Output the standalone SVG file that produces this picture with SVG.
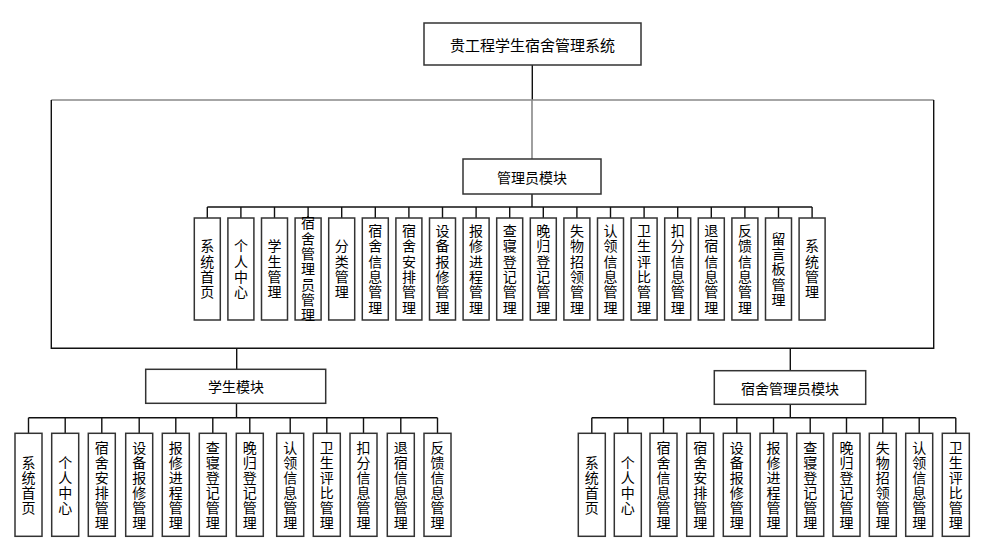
<svg xmlns="http://www.w3.org/2000/svg" width="981" height="539" viewBox="0 0 981 539">
<style>
.b{fill:#fff;stroke:#333;stroke-width:1.5}
.t{font-family:"Noto Sans CJK SC","Liberation Sans",sans-serif;font-size:14px;fill:#000;text-anchor:middle;dominant-baseline:central}
.v{font-family:"Noto Sans CJK SC","Liberation Sans",sans-serif;font-size:14px;fill:#000;text-anchor:middle;writing-mode:vertical-rl;letter-spacing:1.3px}
.w{letter-spacing:1px}
.c{stroke:#111;stroke-width:1.4;fill:none}
.g{stroke:#888;stroke-width:1.6;fill:none}
</style>
<rect width="981" height="539" fill="#fff"/>
<g id="connectors">
<line class="c" x1="532.3" y1="65" x2="532.3" y2="100"/>
<line class="g" x1="51.3" y1="100" x2="933.7" y2="100"/>
<polyline class="c" points="51.3,100 51.3,348.3 933.7,348.3 933.7,100"/>
<line class="g" x1="532" y1="100" x2="532" y2="159"/>
<line class="c" x1="532" y1="194" x2="532" y2="207"/>
<line class="c" x1="207.3" y1="207" x2="812.1" y2="207"/>
<path class="c" d="M207.3,207V218M240.9,207V218M274.5,207V218M308.1,207V218M341.7,207V218M375.3,207V218M408.9,207V218M442.5,207V218M476.1,207V218M509.7,207V218M543.3,207V218M576.9,207V218M610.5,207V218M644.1,207V218M677.7,207V218M711.3,207V218M744.9,207V218M778.5,207V218M812.1,207V218"/>
<line class="c" x1="236.7" y1="348.3" x2="236.7" y2="369.3"/>
<line class="c" x1="790.3" y1="348.3" x2="790.3" y2="370.7"/>
<line class="c" x1="236.5" y1="403.3" x2="236.5" y2="417.7"/>
<line class="c" x1="28.5" y1="417.7" x2="437.5" y2="417.7"/>
<path class="c" d="M28.5,417.7V433.3M65.2,417.7V433.3M101.8,417.7V433.3M139.2,417.7V433.3M175.8,417.7V433.3M212.8,417.7V433.3M249.8,417.7V433.3M290.2,417.7V433.3M326.8,417.7V433.3M363.5,417.7V433.3M400.8,417.7V433.3M437.5,417.7V433.3"/>
<line class="c" x1="790.3" y1="404.3" x2="790.3" y2="417.7"/>
<line class="c" x1="591.8" y1="417.7" x2="955.8" y2="417.7"/>
<path class="c" d="M591.8,417.7V433.3M627.8,417.7V433.3M663.5,417.7V433.3M700.2,417.7V433.3M736.8,417.7V433.3M773.5,417.7V433.3M810.2,417.7V433.3M846.5,417.7V433.3M882.8,417.7V433.3M919.2,417.7V433.3M955.8,417.7V433.3"/>
</g>
<g id="root"><rect class="b" x="424" y="23" width="217" height="42"/><text class="t" x="532.5" y="44" style="font-size:15px">贵工程学生宿舍管理系统</text></g>
<g id="admin"><rect class="b" x="463" y="159" width="138" height="35"/><text class="t" x="532" y="176.5">管理员模块</text></g>
<g id="student"><rect class="b" x="145.7" y="369.3" width="180" height="34"/><text class="t" x="236" y="386.3">学生模块</text></g>
<g id="dorm"><rect class="b" x="714.3" y="370.7" width="151.4" height="33.6"/><text class="t" x="790" y="387.5">宿舍管理员模块</text></g>

<g id="a1"><rect class="b" x="194.3" y="218" width="26" height="102"/><text class="v" x="207.3" y="269.6">系统首页</text></g>
<g id="a2"><rect class="b" x="227.9" y="218" width="26" height="102"/><text class="v" x="240.9" y="269.6">个人中心</text></g>
<g id="a3"><rect class="b" x="261.5" y="218" width="26" height="102"/><text class="v" x="274.5" y="269.6">学生管理</text></g>
<g id="a4"><rect class="b" x="295.1" y="218" width="26" height="102"/><text class="v" x="308.1" y="269.6">宿舍管理员管理</text></g>
<g id="a5"><rect class="b" x="328.7" y="218" width="26" height="102"/><text class="v" x="341.7" y="269.6">分类管理</text></g>
<g id="a6"><rect class="b" x="362.3" y="218" width="26" height="102"/><text class="v" x="375.3" y="269.6">宿舍信息管理</text></g>
<g id="a7"><rect class="b" x="395.9" y="218" width="26" height="102"/><text class="v" x="408.9" y="269.6">宿舍安排管理</text></g>
<g id="a8"><rect class="b" x="429.5" y="218" width="26" height="102"/><text class="v" x="442.5" y="269.6">设备报修管理</text></g>
<g id="a9"><rect class="b" x="463.1" y="218" width="26" height="102"/><text class="v" x="476.1" y="269.6">报修进程管理</text></g>
<g id="a10"><rect class="b" x="496.7" y="218" width="26" height="102"/><text class="v" x="509.7" y="269.6">查寝登记管理</text></g>
<g id="a11"><rect class="b" x="530.3" y="218" width="26" height="102"/><text class="v" x="543.3" y="269.6">晚归登记管理</text></g>
<g id="a12"><rect class="b" x="563.9" y="218" width="26" height="102"/><text class="v" x="576.9" y="269.6">失物招领管理</text></g>
<g id="a13"><rect class="b" x="597.5" y="218" width="26" height="102"/><text class="v" x="610.5" y="269.6">认领信息管理</text></g>
<g id="a14"><rect class="b" x="631.1" y="218" width="26" height="102"/><text class="v" x="644.1" y="269.6">卫生评比管理</text></g>
<g id="a15"><rect class="b" x="664.7" y="218" width="26" height="102"/><text class="v" x="677.7" y="269.6">扣分信息管理</text></g>
<g id="a16"><rect class="b" x="698.3" y="218" width="26" height="102"/><text class="v" x="711.3" y="269.6">退宿信息管理</text></g>
<g id="a17"><rect class="b" x="731.9" y="218" width="26" height="102"/><text class="v" x="744.9" y="269.6">反馈信息管理</text></g>
<g id="a18"><rect class="b" x="765.5" y="218" width="26" height="102"/><text class="v" x="778.5" y="269.6">留言板管理</text></g>
<g id="a19"><rect class="b" x="799.1" y="218" width="26" height="102"/><text class="v" x="812.1" y="269.6">系统管理</text></g>

<g id="s1"><rect class="b" x="15" y="433.3" width="27" height="103"/><text class="v w" x="28.5" y="485.5">系统首页</text></g>
<g id="s2"><rect class="b" x="51.7" y="433.3" width="27" height="103"/><text class="v w" x="65.2" y="485.5">个人中心</text></g>
<g id="s3"><rect class="b" x="88.3" y="433.3" width="27" height="103"/><text class="v w" x="101.8" y="485.5">宿舍安排管理</text></g>
<g id="s4"><rect class="b" x="125.7" y="433.3" width="27" height="103"/><text class="v w" x="139.2" y="485.5">设备报修管理</text></g>
<g id="s5"><rect class="b" x="162.3" y="433.3" width="27" height="103"/><text class="v w" x="175.8" y="485.5">报修进程管理</text></g>
<g id="s6"><rect class="b" x="199.3" y="433.3" width="27" height="103"/><text class="v w" x="212.8" y="485.5">查寝登记管理</text></g>
<g id="s7"><rect class="b" x="236.3" y="433.3" width="27" height="103"/><text class="v w" x="249.8" y="485.5">晚归登记管理</text></g>
<g id="s8"><rect class="b" x="276.7" y="433.3" width="27" height="103"/><text class="v w" x="290.2" y="485.5">认领信息管理</text></g>
<g id="s9"><rect class="b" x="313.3" y="433.3" width="27" height="103"/><text class="v w" x="326.8" y="485.5">卫生评比管理</text></g>
<g id="s10"><rect class="b" x="350" y="433.3" width="27" height="103"/><text class="v w" x="363.5" y="485.5">扣分信息管理</text></g>
<g id="s11"><rect class="b" x="387.3" y="433.3" width="27" height="103"/><text class="v w" x="400.8" y="485.5">退宿信息管理</text></g>
<g id="s12"><rect class="b" x="424" y="433.3" width="27" height="103"/><text class="v w" x="437.5" y="485.5">反馈信息管理</text></g>

<g id="d1"><rect class="b" x="578.3" y="433.3" width="27" height="103"/><text class="v w" x="591.8" y="485.5">系统首页</text></g>
<g id="d2"><rect class="b" x="614.3" y="433.3" width="27" height="103"/><text class="v w" x="627.8" y="485.5">个人中心</text></g>
<g id="d3"><rect class="b" x="650" y="433.3" width="27" height="103"/><text class="v w" x="663.5" y="485.5">宿舍信息管理</text></g>
<g id="d4"><rect class="b" x="686.7" y="433.3" width="27" height="103"/><text class="v w" x="700.2" y="485.5">宿舍安排管理</text></g>
<g id="d5"><rect class="b" x="723.3" y="433.3" width="27" height="103"/><text class="v w" x="736.8" y="485.5">设备报修管理</text></g>
<g id="d6"><rect class="b" x="760" y="433.3" width="27" height="103"/><text class="v w" x="773.5" y="485.5">报修进程管理</text></g>
<g id="d7"><rect class="b" x="796.7" y="433.3" width="27" height="103"/><text class="v w" x="810.2" y="485.5">查寝登记管理</text></g>
<g id="d8"><rect class="b" x="833" y="433.3" width="27" height="103"/><text class="v w" x="846.5" y="485.5">晚归登记管理</text></g>
<g id="d9"><rect class="b" x="869.3" y="433.3" width="27" height="103"/><text class="v w" x="882.8" y="485.5">失物招领管理</text></g>
<g id="d10"><rect class="b" x="905.7" y="433.3" width="27" height="103"/><text class="v w" x="919.2" y="485.5">认领信息管理</text></g>
<g id="d11"><rect class="b" x="942.3" y="433.3" width="27" height="103"/><text class="v w" x="955.8" y="485.5">卫生评比管理</text></g>
</svg>
